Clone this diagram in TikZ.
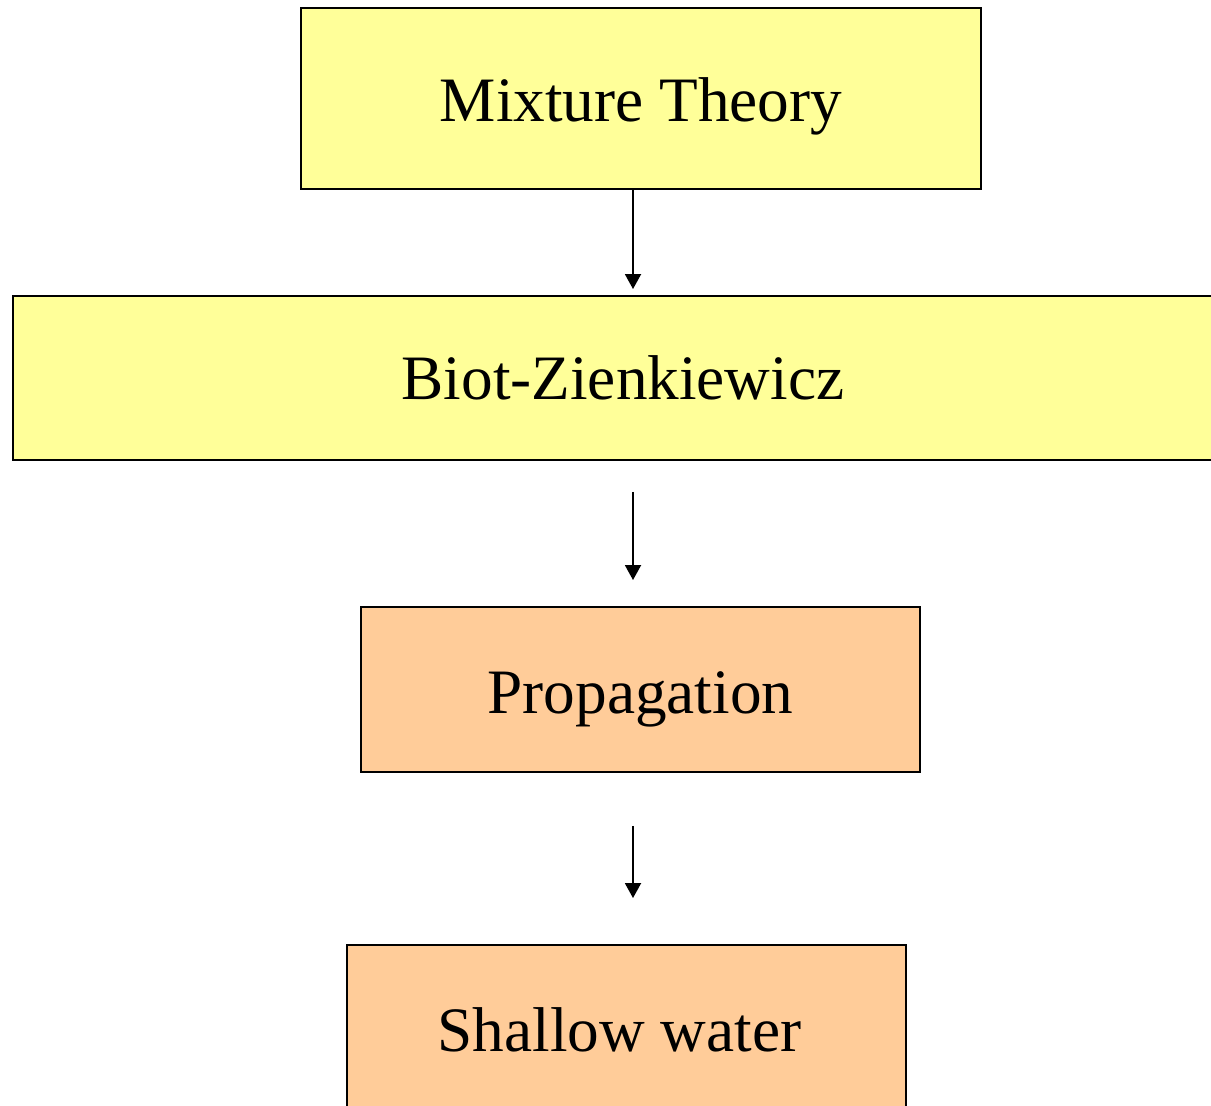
\documentclass[tikz,border=0pt]{standalone}
\usepackage{fontspec}
\setmainfont{Liberation Serif}
\usetikzlibrary{arrows.meta}
\definecolor{boxyellow}{HTML}{FFFF99}
\definecolor{boxorange}{HTML}{FFCC99}
\tikzset{
  theorybox/.style = {draw, line width = 1.1pt, fill = boxyellow,
    inner sep = 0pt, font = \fontsize{36}{43}\selectfont},
  modelbox/.style = {theorybox, fill = boxorange},
  lowtext/.style = {text height = 1.2cm, text depth = .26cm},
  flow/.style = {-{Triangle[length = 3mm, width = 3.2mm]}, line width = 1.1pt}
}
\begin{document}
\begin{tikzpicture}
    \useasboundingbox (0,0) rectangle (24.22,-22.12);
    \node [theorybox, lowtext, minimum width = 13.6cm, minimum height = 3.62cm]
      (mixture) at (12.82,-1.97) {Mixture Theory};
    \node [theorybox, minimum width = 24.4cm, minimum height = 3.28cm]
      (biot) at (12.46,-7.56) {Biot-Zienkiewicz};
    \node [modelbox, lowtext, minimum width = 11.18cm, minimum height = 3.3cm]
      (propagation) at (12.81,-13.79) {Propagation};
    \node [modelbox, minimum width = 11.18cm, minimum height = 3.4cm]
      (shallow) at (12.53,-20.6) {Shallow water\hspace*{.28cm}};
    \coordinate (axis) at (12.66,0);
    \draw [flow, shorten >= .12cm]
      (mixture.south -| axis) -- (biot.north -| axis);
    \draw [flow, shorten <= .62cm, shorten >= .52cm]
      (biot.south -| axis) -- (propagation.north -| axis);
    \draw [flow, shorten <= 1.06cm, shorten >= .92cm]
      (propagation.south -| axis) -- (shallow.north -| axis);
  \end{tikzpicture}
\end{document}
